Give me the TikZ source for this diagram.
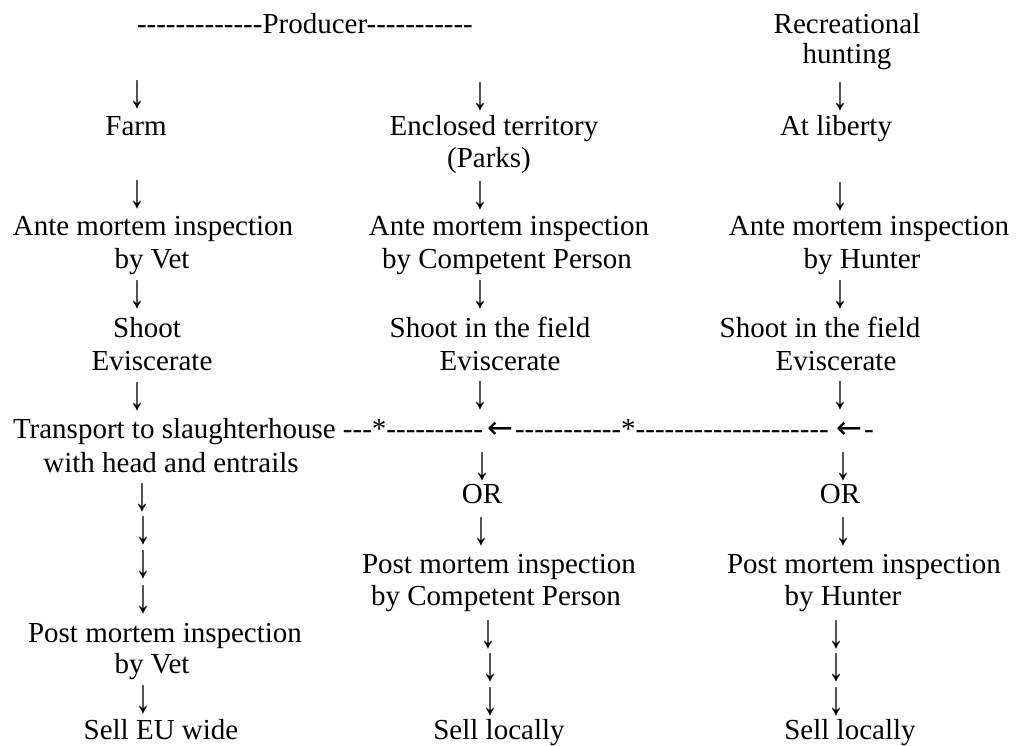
\documentclass[tikz,border=0pt]{standalone}
\usepackage{fontspec}
\setmainfont{Liberation Serif}[Ligatures=TeXOff]
\newfontfamily\djv{DejaVu Sans}
\newcommand{\dn}{\scalebox{1.1}[1.65]{↓}}
\begin{document}
\begin{tikzpicture}[x=1pt,y=-1pt,
  txt/.style={anchor=base, inner sep=0pt, outer sep=0pt, font=\fontsize{29}{33}\selectfont},
  txtw/.style={anchor=base west, inner sep=0pt, outer sep=0pt, font=\fontsize{29}{33}\selectfont},
  arr/.style={anchor=center, inner sep=0pt, outer sep=0pt, font=\fontsize{29}{33}\selectfont},
  larr/.style={anchor=base west, inner sep=0pt, outer sep=0pt, font=\fontsize{31}{33}\djv}]
\fill[white] (0,0) rectangle (1017,745);
\useasboundingbox (0,0) rectangle (1017,745);
% top
\node[txtw] (producer) at (137,33) {-------------Producer-----------};
\node[txt] (rec1) at (847,33) {Recreational};
\node[txt] (rec2) at (847,63) {hunting};
% left column
\node[arr] (la1) at (137,95) {\dn};
\node[txt] (farm) at (136,135) {Farm};
\node[arr] (la2) at (137,195) {\dn};
\node[txt] (lante1) at (153,235) {Ante mortem inspection};
\node[txt] (lante2) at (152,268) {by Vet};
\node[arr] (la3) at (137,295) {\dn};
\node[txt] (lshoot) at (147,337) {Shoot};
\node[txt] (levis) at (152,370) {Eviscerate};
\node[arr] (la4) at (137,397) {\dn};
\node[txtw] (trans) at (13,438) {Transport to slaughterhouse ---*----------};
\node[larr] (lar1) at (487,438) {←};
\node[txtw] (dash2) at (515,438) {-----------*--------------------};
\node[larr] (lar2) at (836,438) {←};
\node[txtw] (dash3) at (864,438) {-};
\node[txt] (with) at (171,472) {with head and entrails};
\node[arr] (la5) at (142,498) {\dn};
\node[arr] (la6) at (143,531) {\dn};
\node[arr] (la7) at (143,565) {\dn};
\node[arr] (la8) at (143,600) {\dn};
\node[txt] (lpost1) at (165,642) {Post mortem inspection};
\node[txt] (lpost2) at (152,673) {by Vet};
\node[arr] (la9) at (143,700) {\dn};
\node[txt] (lsell) at (161,739) {Sell EU wide};
% middle column
\node[arr] (ma1) at (480,97) {\dn};
\node[txt] (encl) at (494,135) {Enclosed territory};
\node[txt] (parks) at (489,167) {(Parks)};
\node[arr] (ma2) at (480,196) {\dn};
\node[txt] (mante1) at (509,235) {Ante mortem inspection};
\node[txt] (mante2) at (507,268) {by Competent Person};
\node[arr] (ma3) at (480,295) {\dn};
\node[txt] (mshoot) at (490,337) {Shoot in the field};
\node[txt] (mevis) at (500,370) {Eviscerate};
\node[arr] (ma4) at (480,396) {\dn};
\node[arr] (ma5) at (482,467) {\dn};
\node[txt] (mor) at (482,503) {OR};
\node[arr] (ma6) at (481,532) {\dn};
\node[txt] (mpost1) at (499,573) {Post mortem inspection};
\node[txt] (mpost2) at (496,605) {by Competent Person};
\node[arr] (ma7) at (488,635) {\dn};
\node[arr] (ma8) at (490,668) {\dn};
\node[arr] (ma9) at (490,702) {\dn};
\node[txt] (msell) at (499,739) {Sell locally};
% right column
\node[arr] (ra1) at (840,97) {\dn};
\node[txt] (lib) at (836,135) {At liberty};
\node[arr] (ra2) at (840,197) {\dn};
\node[txt] (rante1) at (869,235) {Ante mortem inspection};
\node[txt] (rante2) at (862,268) {by Hunter};
\node[arr] (ra3) at (840,295) {\dn};
\node[txt] (rshoot) at (820,337) {Shoot in the field};
\node[txt] (revis) at (836,370) {Eviscerate};
\node[arr] (ra4) at (840,396) {\dn};
\node[arr] (ra5) at (843,467) {\dn};
\node[txt] (ror) at (840,503) {OR};
\node[arr] (ra6) at (843,532) {\dn};
\node[txt] (rpost1) at (864,573) {Post mortem inspection};
\node[txt] (rpost2) at (843,605) {by Hunter};
\node[arr] (ra7) at (836,635) {\dn};
\node[arr] (ra8) at (836,668) {\dn};
\node[arr] (ra9) at (836,702) {\dn};
\node[txt] (rsell) at (850,739) {Sell locally};
\end{tikzpicture}
\end{document}
